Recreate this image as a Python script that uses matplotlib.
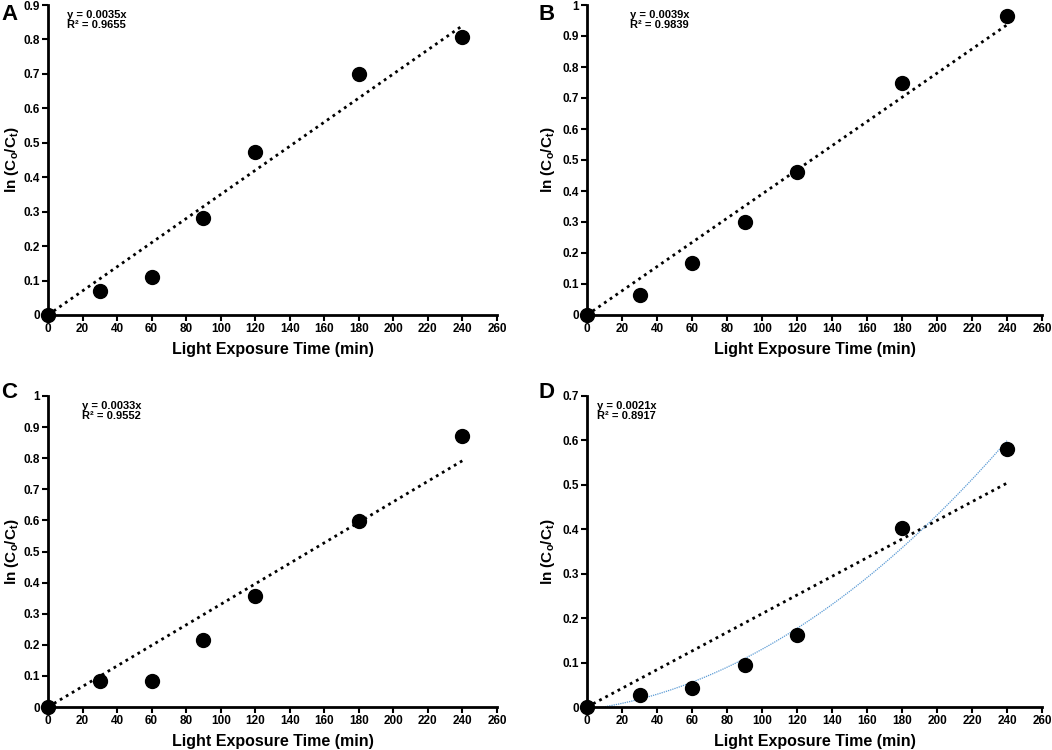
import numpy as np
import matplotlib
matplotlib.use("Agg")
import matplotlib.pyplot as plt
from matplotlib.ticker import FuncFormatter, MultipleLocator

plt.rcParams['font.family'] = ['Liberation Sans', 'DejaVu Sans']
plt.rcParams['font.weight'] = 'bold'
plt.rcParams['mathtext.fontset'] = 'custom'
plt.rcParams['mathtext.rm'] = 'Liberation Sans:bold'
plt.rcParams['mathtext.it'] = 'Liberation Sans:bold'
plt.rcParams['mathtext.bf'] = 'Liberation Sans:bold'

# ---- data ----
time_min = [0, 30, 60, 90, 120, 180, 240]
series_A = [0, 0.070, 0.110, 0.282, 0.473, 0.700, 0.808]
series_B = [0, 0.065, 0.167, 0.300, 0.460, 0.750, 0.963]
series_C = [0, 0.085, 0.085, 0.217, 0.357, 0.598, 0.872]
series_D = [0, 0.028, 0.043, 0.095, 0.162, 0.402, 0.581]
slopes = [0.0035, 0.0039, 0.0033, 0.0021]
r2_values = [0.9655, 0.9839, 0.9552, 0.8917]
panel_letters = ['A', 'B', 'C', 'D']
y_max = [0.9, 1.0, 1.0, 0.7]

series = [series_A, series_B, series_C, series_D]

fig = plt.figure(figsize=(10.52, 7.5), dpi=100)
W, H = 1052, 750
# axes boxes in pixels: left, top, right, bottom
boxes = [(48, 5, 497, 315), (587, 5, 1042, 315),
         (48, 396, 497, 707), (587, 396, 1042, 707)]
letter_pos = [(1, 14), (538, 14), (1, 393), (538, 393)]
eq_pos = [(0.042, 0.985), (0.095, 0.985), (0.076, 0.985), (0.022, 0.985)]
ylabel_gap = [27, 30, 27, 30]

for i, (l, t, r, b) in enumerate(boxes):
    ax = fig.add_axes([l / W, 1 - b / H, (r - l) / W, (b - t) / H])
    ax.set_xlim(0, 260)
    ax.set_ylim(0, y_max[i])
    for s in ['top', 'right']:
        ax.spines[s].set_visible(False)
    for s in ['left', 'bottom']:
        ax.spines[s].set_linewidth(2.0)
    ax.xaxis.set_major_locator(MultipleLocator(20))
    ax.yaxis.set_major_locator(MultipleLocator(0.1))
    ax.yaxis.set_major_formatter(FuncFormatter(lambda v, p: f"{round(v, 2):g}"))
    ax.tick_params(direction='out', length=4, width=1.5, labelsize=8.5, pad=2)
    for lab in ax.get_xticklabels() + ax.get_yticklabels():
        lab.set_fontweight('bold')

    # linear trendline through origin
    xl = np.array([0, 240])
    ax.plot(xl, slopes[i] * xl, color='black', lw=2.0,
            linestyle=(0, (1, 1.5)), zorder=2)

    # polynomial trendline for panel D
    if i == 3:
        coef = np.polyfit(time_min, series[i], 2)
        xs = np.linspace(0, 240, 200)
        ax.plot(xs, np.polyval(coef, xs), color='#5B9BD5', lw=0.9,
                linestyle=(0, (1, 0.8)), zorder=2)

    ax.plot(time_min, series[i], 'o', color='black', markersize=10,
            clip_on=False, zorder=3)

    ex, ey = eq_pos[i]
    ax.text(ex, ey, f"y = {slopes[i]}x\nR² = {r2_values[i]}",
            transform=ax.transAxes, fontsize=8, fontweight='bold',
            va='top', ha='left', linespacing=1.05)

    ax.set_xlabel('Light Exposure Time (min)', fontsize=11.5,
                  fontweight='bold', labelpad=5)
    ax.set_ylabel(r'ln (C$_{o}$/C$_{t}$)', fontsize=11,
                  fontweight='bold')
    ax.yaxis.set_label_coords(-ylabel_gap[i] / (r - l), 0.5)

    lx, ly = letter_pos[i]
    fig.text(lx / W, 1 - ly / H, panel_letters[i], fontsize=16,
             fontweight='bold', ha='left', va='center')

fig.savefig('out.png', dpi=100)
